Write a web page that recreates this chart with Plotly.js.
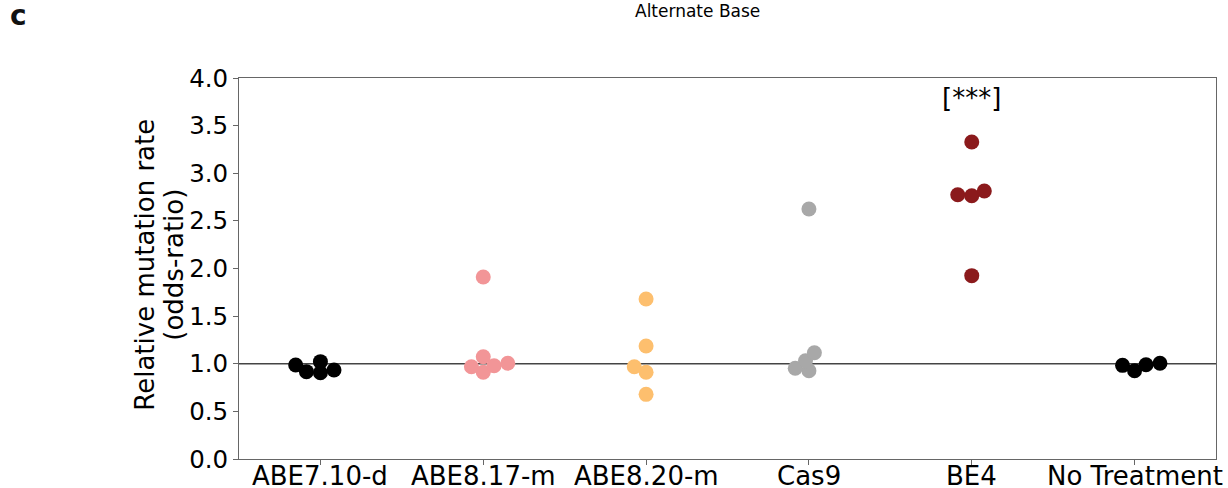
<!DOCTYPE html>
<html>
<head>
<meta charset="utf-8">
<script src="https://cdn.plot.ly/plotly-3.0.1.min.js"></script>
<style>html,body{margin:0;padding:0;background:#fff;}#chart{width:1228px;height:488px;}</style>
</head>
<body>
<div id="chart"></div>
<script>
// ---- data ----
const categories = ["ABE7.10-d", "ABE8.17-m", "ABE8.20-m", "Cas9", "BE4", "No Treatment"];
const abe710d = [0.987, 0.917, 1.022, 0.906, 0.934];
const abe817m = [1.911, 1.074, 0.969, 0.910, 0.979, 1.005];
const abe820m = [1.680, 1.186, 0.969, 0.910, 0.679];
const cas9 = [2.625, 1.116, 1.032, 0.952, 0.927];
const be4 = [3.328, 2.813, 2.764, 2.775, 1.925];
const noTreatment = [0.983, 0.927, 0.990, 1.005];
const yTicks = [0.0, 0.5, 1.0, 1.5, 2.0, 2.5, 3.0, 3.5, 4.0];
const yTitleLines = ["Relative mutation rate", "(odds-ratio)"];
const chartTitle = "Alternate Base";
const panelLabel = "c";
const significance = "[***]";
const sigValue = 3.79;
const referenceLine = 1.0;

const seriesValues = [abe710d, abe817m, abe820m, cas9, be4, noTreatment];
const colors = ["#000000", "#F29597", "#FDBF6E", "#A8A8A8", "#8B1A1C", "#000000"];

// ---- layout geometry ----
const W = 1228, H = 488;
const M = {l: 239, r: 12, t: 78, b: 29};
const plotW = W - M.l - M.r, plotH = H - M.t - M.b;
const xRange = [-0.5, categories.length - 0.5];
const yRange = [0, 4];
const pxPerX = plotW / (xRange[1] - xRange[0]);
const pxPerY = plotH / (yRange[1] - yRange[0]);
const markerSize = 15;
const collisionD = 13.4;   // swarm separation (px)
const yStretch = 1.3;      // vertical scale used by the swarm layout

// seaborn-style beeswarm in pixel space
function beeswarm(values) {
  const pts = values.map(v => ({y: v * pxPerY * yStretch, x: 0, v}));
  pts.sort((a, b) => a.y - b.y);
  const d = collisionD;
  const swarm = [pts[0]];
  for (let i = 1; i < pts.length; i++) {
    const p = pts[i];
    let neighbors = [];
    for (let j = swarm.length - 1; j >= 0; j--) {
      if (p.y - swarm[j].y < d) neighbors.push(swarm[j]); else break;
    }
    neighbors.reverse();
    const cands = [{x: 0, idx: 0}];
    let leftFirst = true, k = 1;
    for (const n of neighbors) {
      const dy = p.y - n.y;
      const dx = Math.sqrt(Math.max(d * d - dy * dy, 0)) * 1.05;
      const cl = n.x - dx, cr = n.x + dx;
      const pair = leftFirst ? [cl, cr] : [cr, cl];
      cands.push({x: pair[0], idx: k++});
      cands.push({x: pair[1], idx: k++});
      leftFirst = !leftFirst;
    }
    cands.sort((a, b) => (Math.abs(a.x) - Math.abs(b.x)) || (a.idx - b.idx));
    let chosen = cands[0].x;
    if (neighbors.length) {
      for (const c of cands) {
        const ok = neighbors.every(n => (n.x - c.x) ** 2 + (n.y - p.y) ** 2 >= d * d - 1e-9);
        if (ok) { chosen = c.x; break; }
      }
    }
    p.x = chosen;
    swarm.push(p);
  }
  return swarm;
}

const traces = seriesValues.map((vals, i) => {
  const sw = beeswarm(vals);
  return {
    type: "scatter", mode: "markers",
    x: sw.map(p => i + p.x / pxPerX),
    y: sw.map(p => p.v),
    marker: {color: colors[i], size: markerSize, line: {width: 0}},
    showlegend: false, hoverinfo: "skip", cliponaxis: false
  };
});

const font = "DejaVu Sans, sans-serif";
const px2paperX = px => (px - M.l) / plotW;
const px2paperY = py => (H - M.b - py) / plotH;

const xLabelAnnotations = categories.map((c, i) => ({
  text: c, x: i, xref: "x", y: 0, yref: "paper",
  xanchor: "center", yanchor: "top", yshift: -3,
  height: 26, borderpad: 0, valign: "middle",
  showarrow: false, font: {family: font, size: 26, color: "#000"}
}));

const yTitleAnnotations = yTitleLines.map((t, i) => ({
  text: t, xref: "paper", yref: "paper", x: px2paperX(145 + i * 29), y: 0.51,
  xanchor: "center", yanchor: "middle", textangle: -90,
  showarrow: false, font: {family: font, size: 26, color: "#000"}
}));

const layout = {
  width: W, height: H,
  margin: M,
  paper_bgcolor: "#fff", plot_bgcolor: "#fff",
  showlegend: false,
  xaxis: {
    range: xRange, tickmode: "array",
    tickvals: categories.map((_, i) => i), ticktext: categories,
    showticklabels: false,
    showgrid: false, zeroline: false,
    showline: true, mirror: true, linecolor: "#666", linewidth: 1,
    ticks: "outside", ticklen: 5, tickcolor: "#666", tickwidth: 1,
    automargin: false, fixedrange: true
  },
  yaxis: {
    range: yRange, tickmode: "array", tickvals: yTicks,
    ticktext: yTicks.map(v => v.toFixed(1)),
    showgrid: false, zeroline: false,
    showline: true, mirror: true, linecolor: "#666", linewidth: 1,
    ticks: "outside", ticklen: 5, tickcolor: "#666", tickwidth: 1,
    tickfont: {family: font, size: 24.5, color: "#000"},
    automargin: false, fixedrange: true
  },
  shapes: [{
    type: "line", xref: "paper", x0: 0, x1: 1, yref: "y", y0: referenceLine, y1: referenceLine,
    line: {color: "#444", width: 1.5}, layer: "below"
  }],
  annotations: xLabelAnnotations.concat(yTitleAnnotations, [
    {text: significance, x: categories.indexOf("BE4"), y: sigValue, xref: "x", yref: "y",
     xanchor: "center", yanchor: "middle",
     showarrow: false, font: {family: font, size: 26, color: "#000"}},
    {text: chartTitle, xref: "paper", yref: "paper",
     x: px2paperX(697), y: px2paperY(11), xanchor: "center", yanchor: "middle",
     showarrow: false, font: {family: font, size: 17, color: "#000"}},
    {text: "<b>" + panelLabel + "</b>", xref: "paper", yref: "paper",
     x: px2paperX(18), y: px2paperY(16), xanchor: "center", yanchor: "middle",
     showarrow: false, font: {family: font, size: 28, color: "#111"}}
  ])
};

Plotly.newPlot("chart", traces, layout, {staticPlot: true, displayModeBar: false});
</script>
</body>
</html>
